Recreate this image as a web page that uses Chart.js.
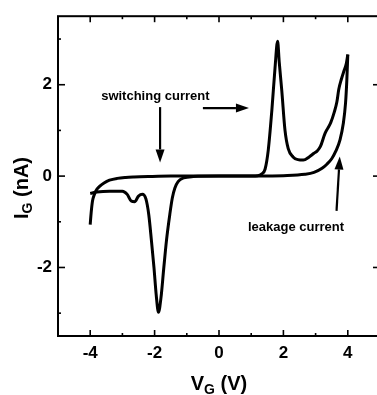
<!DOCTYPE html>
<html><head><meta charset="utf-8">
<script src="https://cdn.jsdelivr.net/npm/chart.js@4"></script>
<style>
html,body{margin:0;padding:0;overflow:hidden;background:#fff;width:377px;height:395px}
#wrap{width:381px;height:395px}
canvas{display:block}
</style></head>
<body><div id="wrap"><canvas id="c" width="381" height="395"></canvas></div>
<script>
// Leakage branch (gate voltage in V, gate current in nA)
const leakageV = [-4.0,-3.97,-3.93,-3.88,-3.82,-3.7,-3.57,-3.4,-3.16,-2.9,-2.64,-2.2,-1.5,-0.5,0.5,1.3,2.0,2.67,2.95,3.2,3.35,3.5,3.63,3.76,3.86,3.93,3.97,4.0];
const leakageI = [-1.06,-0.8,-0.55,-0.42,-0.32,-0.22,-0.15,-0.09,-0.05,-0.03,-0.02,-0.01,0,0,0,0,0.01,0.04,0.08,0.17,0.26,0.38,0.55,0.8,1.15,1.6,2.1,2.66];
// Switching branch
const switchV = [-4.0,-3.8,-3.4,-3.0,-2.85,-2.72,-2.62,-2.5,-2.38,-2.27,-2.18,-2.1,-2.02,-1.95,-1.88,-1.8,-1.72,-1.63,-1.53,-1.45,-1.37,-1.27,-1.1,-0.8,0,0.8,1.2,1.33,1.43,1.53,1.64,1.74,1.82,1.87,1.95,2.05,2.15,2.3,2.45,2.62,2.8,2.95,3.05,3.15,3.29,3.38,3.47,3.58,3.66,3.72,3.8,3.88,3.95,4.0];
const switchI = [-0.38,-0.35,-0.33,-0.33,-0.4,-0.55,-0.56,-0.44,-0.4,-0.5,-0.85,-1.4,-2.0,-2.6,-2.98,-2.65,-2.05,-1.4,-0.85,-0.48,-0.26,-0.12,-0.04,-0.01,0,0,0.01,0.05,0.15,0.57,1.43,2.37,2.95,2.5,1.87,1.0,0.6,0.42,0.36,0.35,0.42,0.5,0.55,0.65,0.93,1.05,1.17,1.4,1.62,1.9,2.12,2.3,2.45,2.66];
// Ticks
const xTickValues = [-4,-3,-2,-1,0,1,2,3,4];
const xTickLabels = ['-4','','-2','','0','','2','','4'];
const yTickValues = [-3,-2,-1,0,1,2,3];
const yTickLabels = ['','-2','','0','','2',''];
// Annotations (data coordinates)
const notes = [
  {text:'switching current', x:-3.66, y:1.66},
  {text:'leakage current', x:0.9, y:-1.21}
];
const arrows = [
  {x0:-1.83, y0:1.51, x1:-1.83, y1:0.30},
  {x0:-0.5, y0:1.49, x1:0.93, y1:1.49},
  {x0:3.65, y0:-0.76, x1:3.75, y1:0.43}
];

const FONT = '"Liberation Sans", Arial, sans-serif';

const framePlugin = {
  id:'frame',
  afterDraw(chart){
    const {ctx, chartArea:a, scales:{x,y}} = chart;
    ctx.save();
    ctx.strokeStyle='#000'; ctx.fillStyle='#000';
    ctx.lineWidth=2;
    ctx.strokeRect(a.left, a.top, a.right-a.left, a.bottom-a.top);
    ctx.lineWidth=1.6;
    const seg=(x0,y0,x1,y1)=>{ctx.beginPath();ctx.moveTo(x0,y0);ctx.lineTo(x1,y1);ctx.stroke();};
    xTickValues.forEach((v,i)=>{
      const p=x.getPixelForValue(v); const L = xTickLabels[i]!==''?6:3;
      seg(p,a.bottom,p,a.bottom-L); seg(p,a.top,p,a.top+L);
    });
    yTickValues.forEach((v,i)=>{
      const p=y.getPixelForValue(v); const L = yTickLabels[i]!==''?7:3;
      seg(a.left,p,a.left+L,p); seg(a.right,p,a.right-L,p);
    });
    // annotations
    ctx.font = 'bold 13px '+FONT;
    ctx.textBaseline='alphabetic'; ctx.textAlign='left';
    notes.forEach(n=>ctx.fillText(n.text, x.getPixelForValue(n.x), y.getPixelForValue(n.y)));
    ctx.lineWidth=2.2;
    arrows.forEach(ar=>{
      const x0=x.getPixelForValue(ar.x0), y0=y.getPixelForValue(ar.y0);
      const x1=x.getPixelForValue(ar.x1), y1=y.getPixelForValue(ar.y1);
      const ang=Math.atan2(y1-y0,x1-x0), hl=13, hw=4.5;
      const bx=x1-hl*Math.cos(ang), by=y1-hl*Math.sin(ang);
      seg(x0,y0,bx,by);
      ctx.beginPath();
      ctx.moveTo(x1,y1);
      ctx.lineTo(bx+hw*Math.sin(ang), by-hw*Math.cos(ang));
      ctx.lineTo(bx-hw*Math.sin(ang), by+hw*Math.cos(ang));
      ctx.closePath(); ctx.fill();
    });
    // axis titles with subscripts
    const drawSub=(main,sub,rest,cx,cy,big,small,drop)=>{
      ctx.font='bold '+big+'px '+FONT; const w1=ctx.measureText(main).width, w3=ctx.measureText(rest).width;
      ctx.font='bold '+small+'px '+FONT; const w2=ctx.measureText(sub).width;
      let sx=cx-(w1+w2+w3)/2;
      ctx.textAlign='left';
      ctx.font='bold '+big+'px '+FONT; ctx.fillText(main,sx,cy); sx+=w1;
      ctx.font='bold '+small+'px '+FONT; ctx.fillText(sub,sx,cy+drop); sx+=w2;
      ctx.font='bold '+big+'px '+FONT; ctx.fillText(rest,sx,cy);
    };
    drawSub('V','G',' (V)', x.getPixelForValue(0), 390, 20, 14, 4);
    ctx.save();
    ctx.translate(28, 188); ctx.rotate(-Math.PI/2);
    drawSub('I','G',' (nA)', 0, 0, 20, 14, 4);
    ctx.restore();
    ctx.restore();
  }
};

const tickFont = {family:FONT, size:17, weight:'bold'};
new Chart(document.getElementById('c'), {
  type:'line',
  data:{datasets:[
    {data: leakageV.map((v,i)=>({x:v,y:leakageI[i]})), borderColor:'#000', borderWidth:3, pointRadius:0, cubicInterpolationMode:'monotone', fill:false},
    {data: switchV.map((v,i)=>({x:v,y:switchI[i]})), borderColor:'#000', borderWidth:3, pointRadius:0, cubicInterpolationMode:'monotone', fill:false}
  ]},
  options:{
    responsive:false, animation:false, devicePixelRatio:1,
    layout:{padding:{top:10,right:1,left:0,bottom:0}},
    plugins:{legend:{display:false}, tooltip:{enabled:false}},
    scales:{
      x:{type:'linear', min:-5, max:5,
        grid:{display:false, drawTicks:false}, border:{display:false},
        afterBuildTicks:s=>{s.ticks = xTickValues.map(v=>({value:v}));},
        afterFit:s=>{s.height=59;},
        ticks:{color:'#000', font:tickFont, padding:7, autoSkip:false, maxRotation:0,
          callback:(v)=>{const i=xTickValues.indexOf(v); return i>=0?xTickLabels[i]:'';}}},
      y:{type:'linear', min:-3.5, max:3.5,
        grid:{display:false, drawTicks:false}, border:{display:false},
        afterBuildTicks:s=>{s.ticks = yTickValues.map(v=>({value:v}));},
        afterFit:s=>{s.width=58;},
        ticks:{color:'#000', font:tickFont, padding:6, autoSkip:false,
          callback:(v)=>{const i=yTickValues.indexOf(v); return i>=0?yTickLabels[i]:'';}}}
    }
  },
  plugins:[framePlugin]
});
</script>
</body></html>
